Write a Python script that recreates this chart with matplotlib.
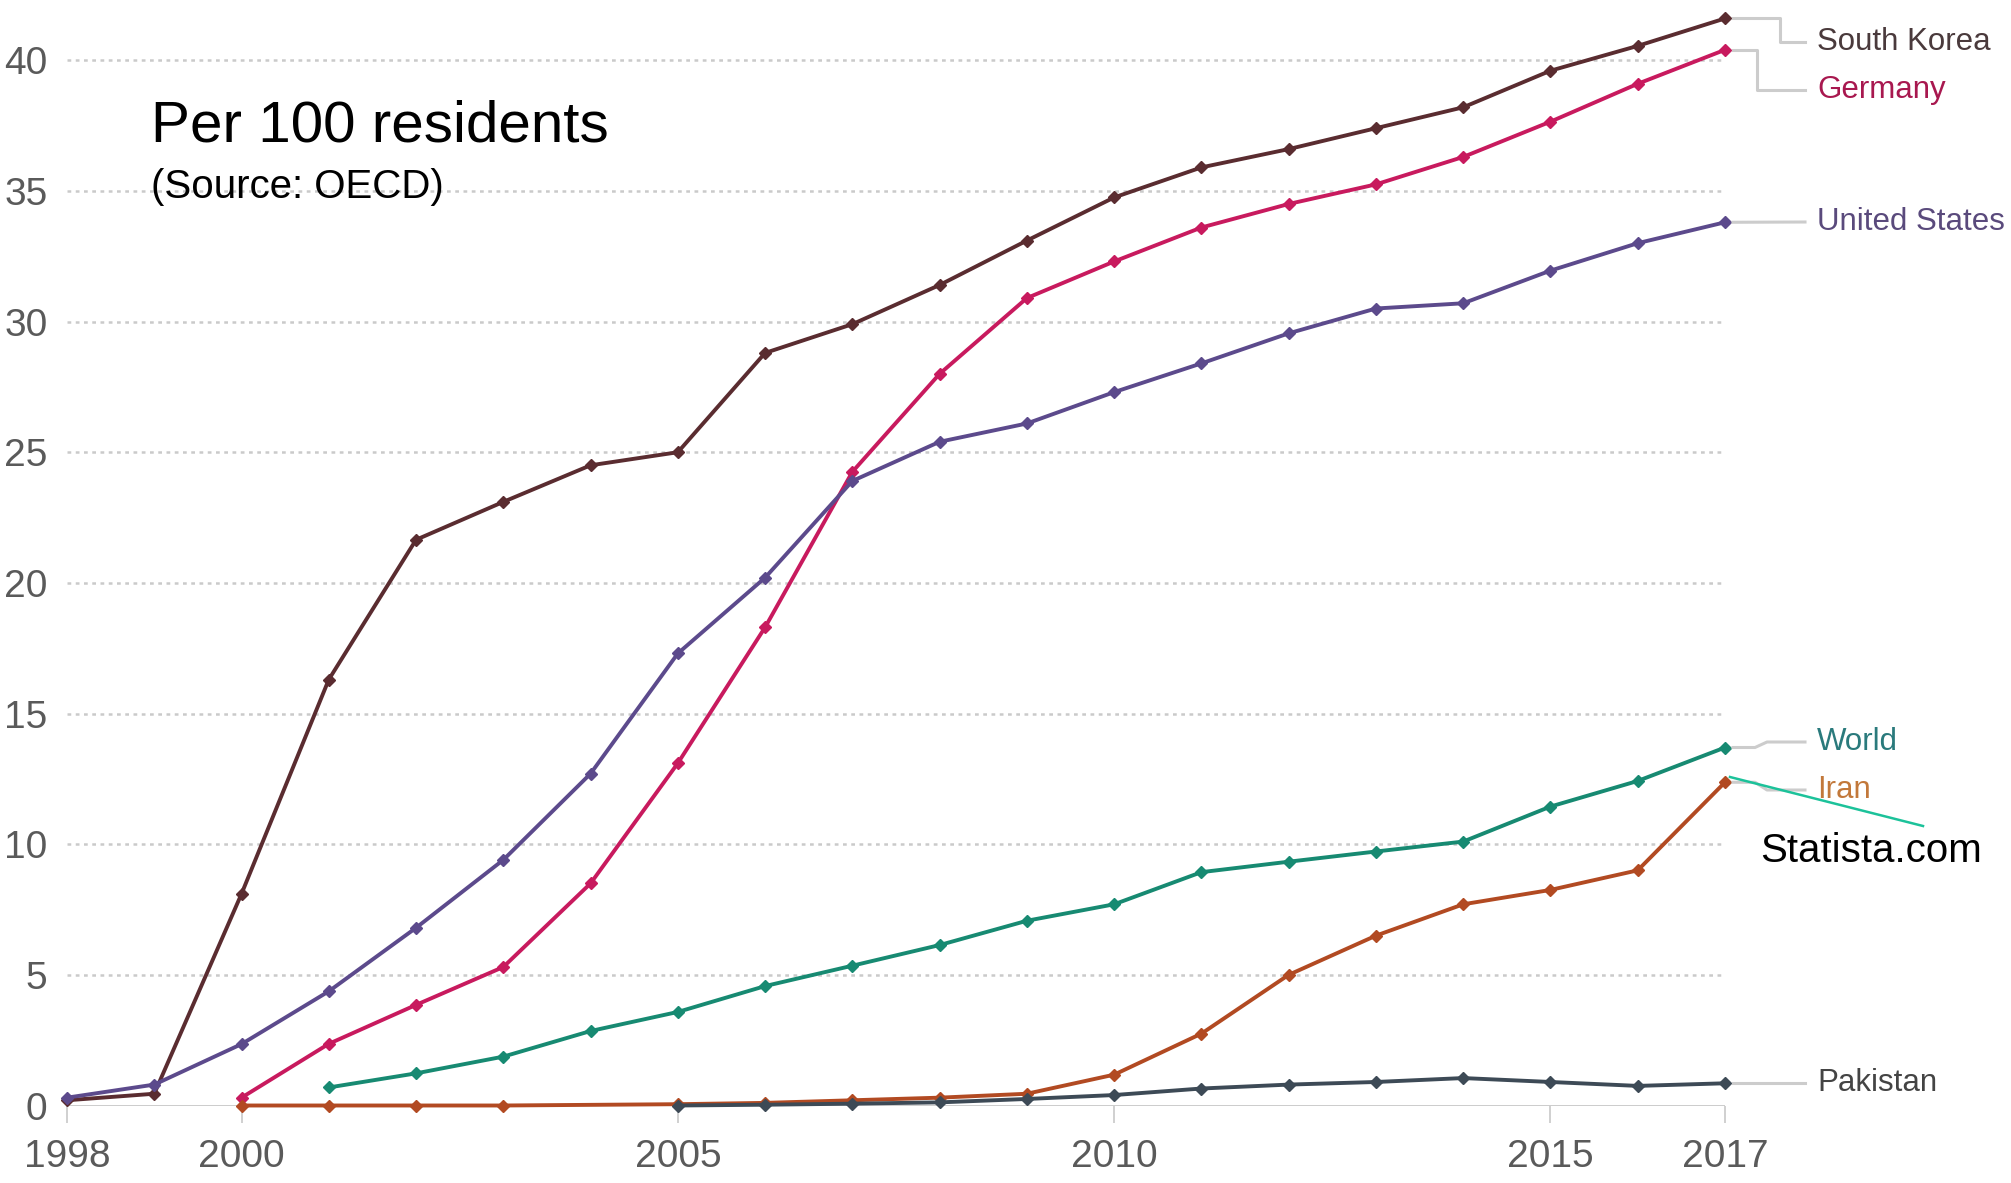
import matplotlib
matplotlib.use("Agg")
import matplotlib.pyplot as plt
from matplotlib import font_manager

# ---- data (fixed broadband subscriptions per 100 residents) ----
years_korea = list(range(1998, 2018))
korea = [0.2, 0.45, 8.1, 16.3, 21.65, 23.1, 24.5, 25.0, 28.8, 29.9, 31.4, 33.1,
         34.75, 35.9, 36.6, 37.4, 38.2, 39.6, 40.55, 41.6]

years_germany = list(range(2000, 2018))
germany = [0.3, 2.36, 3.85, 5.3, 8.5, 13.1, 18.3, 24.25, 28.0, 30.9, 32.3, 33.6,
           34.5, 35.25, 36.3, 37.65, 39.1, 40.4]

years_us = list(range(1998, 2018))
us = [0.3, 0.8, 2.35, 4.37, 6.8, 9.4, 12.7, 17.3, 20.2, 23.9, 25.4, 26.1, 27.3,
      28.4, 29.55, 30.5, 30.7, 31.95, 33.0, 33.8]

years_world = list(range(2001, 2018))
world = [0.69, 1.23, 1.87, 2.85, 3.58, 4.57, 5.35, 6.14, 7.07, 7.7, 8.93, 9.33,
         9.72, 10.1, 11.44, 12.42, 13.7]

years_iran = [2000, 2001, 2002, 2003, 2005, 2006, 2007, 2008, 2009, 2010, 2011,
              2012, 2013, 2014, 2015, 2016, 2017]
iran = [0.0, 0.0, 0.0, 0.0, 0.05, 0.1, 0.2, 0.3, 0.45, 1.18, 2.75, 5.0, 6.5,
        7.7, 8.25, 9.0, 12.37]

years_pakistan = list(range(2005, 2018))
pakistan = [0.0, 0.03, 0.07, 0.12, 0.25, 0.4, 0.65, 0.8, 0.9, 1.05, 0.9, 0.75, 0.85]

x_ticks = [1998, 2000, 2005, 2010, 2015, 2017]
y_ticks = [0, 5, 10, 15, 20, 25, 30, 35, 40]

series = [
    ("South Korea", years_korea, korea, "#5a2c30", "#4a3a3c"),
    ("Germany", years_germany, germany, "#c81a5e", "#a8184f"),
    ("United States", years_us, us, "#5c4a8c", "#5a4a7c"),
    ("World", years_world, world, "#178a72", "#2a7a7c"),
    ("Iran", years_iran, iran, "#b24a22", "#c2783a"),
    ("Pakistan", years_pakistan, pakistan, "#3d4a56", "#444444"),
]

# ---- fonts ----
available = {f.name for f in font_manager.fontManager.ttflist}
narrow = "Liberation Sans Narrow" if "Liberation Sans Narrow" in available else "Liberation Sans"
narrow_size = 33 if narrow == "Liberation Sans Narrow" else 28
label_size = 27 if narrow == "Liberation Sans Narrow" else 22.5

W, H = 2011, 1183
fig = plt.figure(figsize=(W / 100, H / 100), dpi=100)
fig.patch.set_facecolor("white")

# axes placement in pixels: x 1998 -> 67, 2017 -> 1725; y 0 -> 1105.5, 42 -> 8
ax = fig.add_axes([67 / W, (H - 1105.5) / H, (1725 - 67) / W, (1105.5 - 8) / H])
ax.set_xlim(1998, 2017)
ax.set_ylim(0, 42)

for s in ax.spines.values():
    s.set_visible(False)

# dotted horizontal gridlines
for yv in y_ticks[1:]:
    ax.axhline(yv, xmin=0, xmax=1, color="#cacaca", lw=1.8,
               linestyle=(0, (1.5, 1.8)), zorder=1)
# solid baseline
ax.axhline(0, color="#c8c8c8", lw=2.0, zorder=1)

ax.set_xticks(x_ticks)
ax.set_xticklabels([str(v) for v in x_ticks])
ax.set_yticks(y_ticks)
ax.set_yticklabels([str(v) for v in y_ticks])
ax.tick_params(axis="x", length=12, width=1.2, color="#c8c8c8", pad=12,
               labelsize=narrow_size, labelcolor="#5a5a5a")
ax.tick_params(axis="y", length=0, pad=14, labelsize=narrow_size,
               labelcolor="#5a5a5a")
for lab in ax.get_xticklabels() + ax.get_yticklabels():
    lab.set_family([narrow, "DejaVu Sans"])

# series lines
for name, xs, ys, col, _ in series:
    ax.plot(xs, ys, color=col, lw=2.8, marker="D", markersize=6,
            clip_on=False, zorder=3)

# end labels with connector lines (figure pixel coordinates)
def fx(px):
    return px / W

def fy(py):
    return 1 - py / H

def pix(x, y):
    d = ax.transData.transform((x, y))
    return d[0], H - d[1]

label_x = 1817
connectors = {
    "South Korea": (1780, 42),
    "Germany": (1757, 90),
    "United States": (None, 222),
    "World": (1767, 742),
    "Iran": (1767, 790),
    "Pakistan": (None, None),
}

for name, xs, ys, col, tcol in series:
    px, py = pix(xs[-1], ys[-1])
    bend_x, ty = connectors[name]
    if ty is None:
        ty = py
    if bend_x is None:
        pts = [(px + 8, py), (1805, ty)]
    elif name == "World" or name == "Iran":
        pts = [(px + 8, py), (bend_x - 12, py), (bend_x, ty), (1805, ty)]
    else:
        pts = [(px + 8, py), (bend_x, py), (bend_x, ty), (1805, ty)]
    fig.add_artist(plt.Line2D([fx(p[0]) for p in pts], [fy(p[1]) for p in pts],
                              color="#cccccc", lw=2.2, zorder=2))
    fig.text(fx(label_x), fy(ty), name, color=tcol, fontsize=label_size,
             family=[narrow, "DejaVu Sans"], va="center", ha="left")

# title block
fig.text(fx(151), fy(126), "Per 100 residents", fontsize=42,
         family=["Liberation Sans", "DejaVu Sans"], color="black",
         va="center", ha="left")
fig.text(fx(151), fy(187), "(Source: OECD)", fontsize=29,
         family=["Liberation Sans", "DejaVu Sans"], color="black",
         va="center", ha="left")

# source credit with pointer
fig.add_artist(plt.Line2D([fx(1730), fx(1923)], [fy(777), fy(826)],
                          color="#1cc29a", lw=1.8, zorder=5))
fig.text(fx(1760), fy(851), "Statista.com", fontsize=29,
         family=["Liberation Sans", "DejaVu Sans"], color="black",
         va="center", ha="left")

fig.savefig("out.png", dpi=100, facecolor="white")
